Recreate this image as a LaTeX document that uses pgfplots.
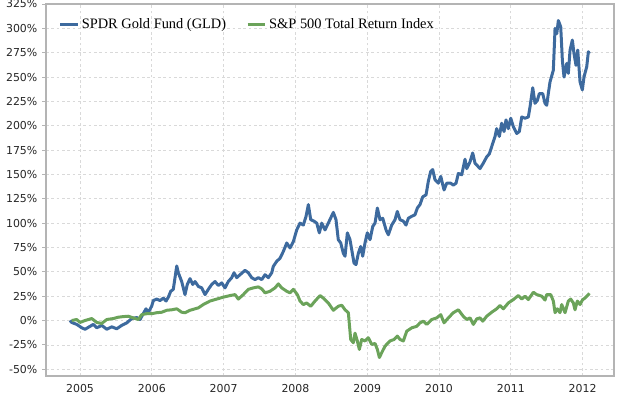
\documentclass[border=0pt]{standalone}
\usepackage{pgfplots}
\pgfplotsset{compat=1.18}
\usepackage{fontspec}
\setmainfont{Liberation Serif}
\newfontfamily\tickfont{DejaVu Sans}
\definecolor{gldblue}{HTML}{3D6A9E}
\definecolor{spgreen}{HTML}{6BA35A}
\definecolor{gridgray}{HTML}{D9D9D9}
\definecolor{axisgray}{HTML}{B4B4B4}
\begin{document}
\begin{tikzpicture}
\begin{axis}[
  scale only axis,
  width=426pt, height=279pt,
  xmin=2004.526, xmax=2012.437,
  ymin=-57, ymax=325,
  xtick={2005,2006,2007,2008,2009,2010,2011,2012},
  ytick={-50,-25,0,25,50,75,100,125,150,175,200,225,250,275,300,325},
  xticklabel={\pgfmathprintnumber[1000 sep={},assume math mode=true]{\tick}},
  yticklabel={\pgfmathprintnumber[assume math mode=true]{\tick}\%},
  tick label style={font=\tickfont\fontsize{8.2pt}{10pt}\selectfont, text=black!85},
  grid=major,
  major grid style={gridgray, dash pattern=on 2pt off 2pt, line width=0.5pt},
  axis line style={axisgray, line width=0.8pt},
  tick style={axisgray, line width=0.6pt},
  ytick pos=left, xtick pos=bottom,
  tick align=outside,
  major tick length=3pt,
  xtick style={draw=none},
  legend style={at={(0.015,0.946)}, anchor=west, draw=none, fill=none,
    font=\fontsize{10.8pt}{13pt}\selectfont, legend columns=2,
    /tikz/every even column/.append style={column sep=13pt}},
  legend image code/.code={\draw[#1, line width=2.25pt] (0pt,0pt) -- (13pt,0pt);},
  legend cell align=left,
]
\addplot[gldblue, line width=2.25pt, line join=round] coordinates {
(2004.860,0) (2004.884,-2) (2004.954,-4) (2005.024,-7.5) (2005.070,-9) (2005.139,-6)
(2005.185,-4) (2005.233,-7.5) (2005.302,-5) (2005.372,-9) (2005.442,-6.5) (2005.511,-8.5)
(2005.581,-5) (2005.650,-2.5) (2005.720,2) (2005.790,3) (2005.836,1) (2005.873,6)
(2005.919,12) (2005.951,8) (2005.999,15) (2006.021,20.5) (2006.068,22) (2006.114,20.5)
(2006.160,23) (2006.198,20) (2006.230,24) (2006.263,30) (2006.299,32) (2006.347,56)
(2006.369,49) (2006.416,40) (2006.462,26.6) (2006.494,37) (2006.532,43) (2006.570,37)
(2006.602,40) (2006.648,35) (2006.695,33.5) (2006.741,26.6) (2006.787,32) (2006.834,37)
(2006.880,40) (2006.926,36) (2006.974,38.6) (2007.019,33.5) (2007.065,40) (2007.113,44)
(2007.145,49) (2007.182,44) (2007.228,47) (2007.298,51.5) (2007.344,49) (2007.391,44)
(2007.437,42) (2007.483,44) (2007.531,42) (2007.577,47) (2007.623,44) (2007.670,49)
(2007.692,55.6) (2007.740,60.8) (2007.786,64) (2007.832,71) (2007.879,79.6) (2007.925,74.5)
(2007.971,81) (2008.018,93) (2008.064,100) (2008.110,98) (2008.148,107) (2008.180,119)
(2008.213,103.5) (2008.259,102) (2008.297,100) (2008.333,90) (2008.366,100) (2008.412,93)
(2008.458,100) (2008.528,111) (2008.565,103.5) (2008.597,83) (2008.631,79.6) (2008.667,69)
(2008.691,66) (2008.723,90) (2008.760,83) (2008.784,72.7) (2008.816,59) (2008.844,57.4)
(2008.876,69) (2008.909,76) (2008.937,66) (2008.969,79.6) (2009.001,90) (2009.039,83)
(2009.077,96.6) (2009.109,100) (2009.141,115.5) (2009.178,103.5) (2009.216,105) (2009.262,93)
(2009.294,88) (2009.341,98) (2009.387,103.5) (2009.419,112) (2009.457,103.5) (2009.503,102)
(2009.540,98) (2009.573,105) (2009.620,107) (2009.666,108.6) (2009.698,115.5) (2009.735,119)
(2009.773,127) (2009.819,129) (2009.851,143) (2009.884,153) (2009.912,155) (2009.944,144.5)
(2009.990,141) (2010.024,148) (2010.070,134) (2010.107,141) (2010.163,141) (2010.199,139)
(2010.237,141) (2010.269,151) (2010.316,149.6) (2010.362,165.6) (2010.386,156) (2010.432,163)
(2010.469,172) (2010.501,161.6) (2010.571,156) (2010.617,161.6) (2010.664,168) (2010.700,171)
(2010.734,178.6) (2010.780,189) (2010.803,197) (2010.840,189) (2010.873,202.6) (2010.905,194)
(2010.933,206) (2010.965,197) (2010.999,207.7) (2011.035,199) (2011.082,192) (2011.118,194)
(2011.152,209) (2011.198,207.7) (2011.244,209) (2011.268,219.6) (2011.305,239) (2011.337,223)
(2011.369,226) (2011.397,233) (2011.444,233) (2011.476,223) (2011.500,221) (2011.522,233)
(2011.546,245) (2011.592,257) (2011.616,300) (2011.640,294.6) (2011.662,308) (2011.695,301.5)
(2011.718,267) (2011.741,250) (2011.779,264) (2011.801,253.8) (2011.825,277.7) (2011.857,288)
(2011.880,274) (2011.908,262) (2011.932,277.7) (2011.964,245) (2011.996,236.7) (2012.019,250)
(2012.057,260.6) (2012.080,276) (2012.094,274)
};
\addlegendentry{SPDR Gold Fund (GLD)}
\addplot[spgreen, line width=2.25pt, line join=round] coordinates {
(2004.884,0) (2004.954,1) (2005.000,-2) (2005.070,0) (2005.163,2) (2005.233,-2)
(2005.302,-3) (2005.372,1) (2005.464,2) (2005.533,3.4) (2005.603,4) (2005.673,4.4)
(2005.742,2.7) (2005.812,1) (2005.859,6) (2005.929,7) (2005.999,7) (2006.068,8)
(2006.138,8.5) (2006.208,10.5) (2006.277,11) (2006.347,12) (2006.416,8.5) (2006.462,8)
(2006.532,10.5) (2006.602,12) (2006.648,13) (2006.717,16.4) (2006.811,20) (2006.904,22)
(2006.996,24) (2007.089,25.6) (2007.159,26.6) (2007.205,22) (2007.274,26.6) (2007.344,32)
(2007.414,33.5) (2007.483,34.5) (2007.531,32.5) (2007.577,28.4) (2007.646,30) (2007.716,33.5)
(2007.762,37.6) (2007.809,33.5) (2007.879,30) (2007.925,28.4) (2007.971,32) (2008.027,26.6)
(2008.064,20) (2008.110,16.4) (2008.157,18) (2008.213,14.6) (2008.273,20) (2008.343,25.6)
(2008.389,23) (2008.458,18) (2008.528,10.5) (2008.597,14.6) (2008.645,15.7) (2008.691,11)
(2008.737,8) (2008.770,-19.5) (2008.806,-22.8) (2008.830,-13) (2008.862,-21) (2008.890,-29.7)
(2008.923,-19.5) (2008.969,-21) (2009.015,-17.7) (2009.063,-24.6) (2009.109,-23.6) (2009.141,-29.7)
(2009.169,-38) (2009.202,-33) (2009.248,-26.3) (2009.318,-21) (2009.373,-19.5) (2009.419,-16)
(2009.457,-19.5) (2009.503,-21) (2009.550,-11) (2009.620,-7.5) (2009.689,-6) (2009.735,-2.4)
(2009.781,-0.7) (2009.829,-4) (2009.898,1) (2009.967,2.7) (2010.024,6) (2010.070,-2.4)
(2010.130,2.7) (2010.199,8) (2010.269,11) (2010.337,4.4) (2010.386,1) (2010.432,2.7)
(2010.478,-4) (2010.526,1.7) (2010.571,2.7) (2010.609,-0.7) (2010.664,4.4) (2010.734,8.5)
(2010.803,12) (2010.849,15.4) (2010.896,12) (2010.965,18) (2011.035,21.5) (2011.104,25.6)
(2011.152,22) (2011.198,25) (2011.244,21.5) (2011.314,29) (2011.361,26.6) (2011.430,25)
(2011.476,21) (2011.500,26.6) (2011.556,26.6) (2011.592,20) (2011.616,8) (2011.648,12)
(2011.685,8) (2011.709,16.4) (2011.755,8) (2011.801,20) (2011.834,22) (2011.871,18)
(2011.894,11) (2011.926,20) (2011.964,16.4) (2012.001,21.5) (2012.033,23) (2012.080,26.6)
(2012.094,28)
};
\addlegendentry{S\&P 500 Total Return Index}
\end{axis}
\pgfresetboundingbox
\path[use as bounding box] ([xshift=-34.5pt,yshift=-18pt]current axis.south west) rectangle ([xshift=6pt,yshift=3pt]current axis.north east);
\end{tikzpicture}
\end{document}
